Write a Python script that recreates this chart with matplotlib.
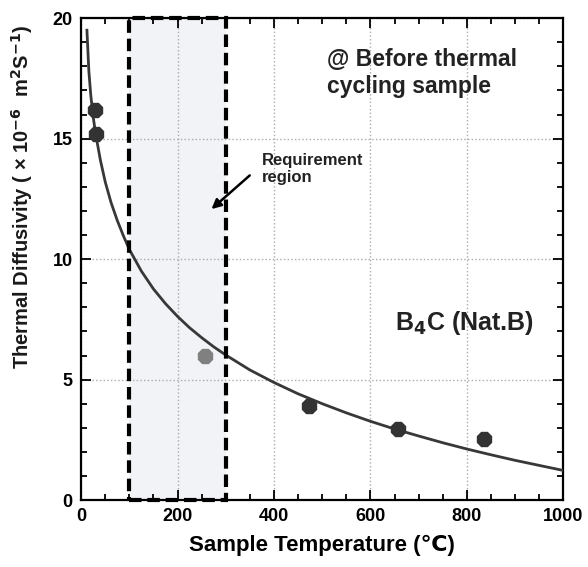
import matplotlib
matplotlib.use('Agg')
import matplotlib.pyplot as plt
from matplotlib.patches import Rectangle
from matplotlib.ticker import MultipleLocator

plt.rcParams['font.family'] = ['Liberation Sans', 'DejaVu Sans']

# measured points (temperature C, diffusivity 1e-6 m2/s)
temp_dark = [28, 30, 472, 658, 835]
diff_dark = [16.2, 15.2, 3.9, 2.95, 2.53]
temp_grey = [257]
diff_grey = [5.98]

# fitted curve
curve_t = [12, 16, 20, 25, 30, 40, 50, 62, 75, 88, 100, 125, 150, 175, 200,
           225, 250, 275, 300, 350, 400, 450, 500, 550, 600, 650, 700, 750,
           800, 850, 900, 950, 1000]
curve_d = [19.5, 17.8, 16.8, 15.9, 15.2, 14.1, 13.2, 12.35, 11.6, 10.95, 10.4,
           9.5, 8.76, 8.15, 7.62, 7.15, 6.74, 6.36, 6.02, 5.4, 4.88, 4.41, 4.0,
           3.62, 3.27, 2.95, 2.66, 2.38, 2.12, 1.88, 1.65, 1.44, 1.23]

# requirement region
req_lo, req_hi = 100, 300

fig = plt.figure(figsize=(5.88, 5.67), dpi=100)
ax = fig.add_axes([0.138, 0.118, 0.82, 0.85])

ax.add_patch(Rectangle((req_lo, 0), req_hi - req_lo, 20, facecolor='#f1f3f6',
                       edgecolor='none', zorder=0))
ax.add_patch(Rectangle((req_lo, 0), req_hi - req_lo, 20, facecolor='none',
                       edgecolor='black', lw=3, ls=(0, (3, 1.4)), zorder=4,
                       clip_on=False))

ax.plot(curve_t, curve_d, color='#383838', lw=2, zorder=3)
ax.plot(temp_dark, diff_dark, ls='none', marker='8', ms=10.5, color='#333333', zorder=5)
ax.plot(temp_grey, diff_grey, ls='none', marker='8', ms=10.5, color='#808080', zorder=5)

ax.set_xlim(0, 1000)
ax.set_ylim(0, 20)
ax.xaxis.set_major_locator(MultipleLocator(200))
ax.xaxis.set_minor_locator(MultipleLocator(50))
ax.yaxis.set_major_locator(MultipleLocator(5))
ax.yaxis.set_minor_locator(MultipleLocator(1))
ax.tick_params(which='both', direction='in', top=True, right=True, width=1.3)
ax.tick_params(which='major', length=7, labelsize=13, pad=6)
ax.tick_params(which='minor', length=4)
for lab in ax.get_xticklabels() + ax.get_yticklabels():
    lab.set_fontweight('bold')
for sp in ax.spines.values():
    sp.set_linewidth(1.6)
ax.grid(True, which='major', ls=':', color='#aaaaaa', lw=1)
ax.set_axisbelow(True)

ax.set_xlabel('Sample Temperature (℃)', fontsize=16, fontweight='bold', labelpad=7)
ax.set_ylabel('Thermal Diffusivity ( × 10$^{\\mathbf{-6}}$  m$^{\\mathbf{2}}$S$^{\\mathbf{-1}}$)',
              fontsize=14.5, fontweight='bold', color='#1a1a1a')
ax.yaxis.set_label_coords(-0.096, 0.63)

ax.text(510, 18.75, '@ Before thermal\ncycling sample', fontsize=16.5,
        fontweight='bold', va='top', linespacing=1.2, color='#222222')
ax.text(375, 14.4, 'Requirement\nregion', fontsize=12, fontweight='bold',
        va='top', linespacing=1.2, color='#222222')
ax.annotate('', xy=(266, 12.0), xytext=(354, 13.55),
            arrowprops=dict(arrowstyle='-|>', color='black', lw=1.8,
                            mutation_scale=14))
ax.text(650, 7.35, 'B$_\\mathbf{4}$C (Nat.B)', fontsize=18, fontweight='bold',
        va='center', color='#222222')

fig.savefig('out.png', dpi=100)
